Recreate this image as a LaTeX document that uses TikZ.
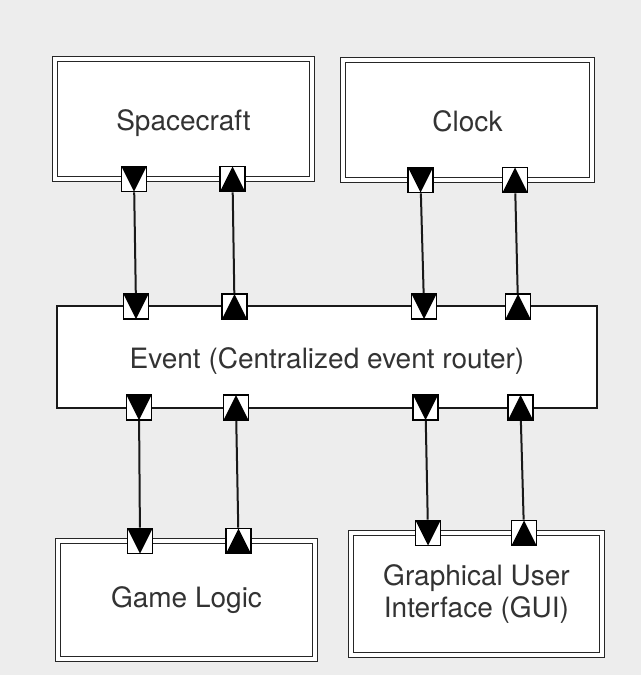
\documentclass[tikz,border=0pt]{standalone}
\usepackage{fontspec}
\setmainfont{TeX Gyre Heros}
\begin{document}
\begin{tikzpicture}[x=0.5pt,y=-0.5pt,
  lbl/.style={font=\fontsize{14}{16.5}\selectfont, text=black!80, align=center, inner sep=0pt},
  lowtext/.style={text height=2.1ex, text depth=0pt},
  comp/.style={lbl, draw=black!85, line width=0.9pt, double=white, double distance=1.6pt, fill=white},
  router/.style={lbl, draw=black!90, line width=1.3pt, fill=white},
  port/.style={rectangle, draw=black, line width=0.9pt, fill=white, minimum size=12.5pt, inner sep=0pt},
  pdown/.style={port, path picture={\fill[black] (path picture bounding box.north west) -- (path picture bounding box.north east) -- (path picture bounding box.south) -- cycle;}},
  pup/.style={port, path picture={\fill[black] (path picture bounding box.south west) -- (path picture bounding box.south east) -- (path picture bounding box.north) -- cycle;}},
  wire/.style={draw=black!90, line width=1pt}
]
\useasboundingbox[fill=black!7] (0,0) rectangle (641,675);

% components
\node[comp, lowtext, minimum width=128.5pt, minimum height=60pt] (sc) at (183.5,119) {Spacecraft};
\node[comp, lowtext, minimum width=124.5pt, minimum height=60pt] (ck) at (467.5,120) {Clock};
\node[router, lowtext, minimum width=270pt, minimum height=51pt] (ev) at (327,357) {Event (Centralized event router)};
\node[comp, minimum width=128.5pt, minimum height=59pt] (gl) at (186.5,600) {Game Logic};
\node[comp, minimum width=125.5pt, minimum height=61pt] (gui) at (476.5,594) {Graphical User\\Interface (GUI)};

% ports
\node[pdown] (s1) at (134,179) {};
\node[pup]   (s2) at (232.5,179) {};
\node[pdown] (c1) at (420.5,180) {};
\node[pup]   (c2) at (515,180) {};
\node[pdown] (e1) at (136,306.5) {};
\node[pup]   (e2) at (234.5,306.5) {};
\node[pdown] (e3) at (424,306.5) {};
\node[pup]   (e4) at (518,306.5) {};
\node[pdown] (e5) at (139,407.5) {};
\node[pup]   (e6) at (236,407.5) {};
\node[pdown] (e7) at (425.5,407.5) {};
\node[pup]   (e8) at (520.5,407.5) {};
\node[pdown] (g1) at (140,541) {};
\node[pup]   (g2) at (238.5,541) {};
\node[pdown] (u1) at (428,533) {};
\node[pup]   (u2) at (524,533) {};

% connectors
\draw[wire] (s1) -- (e1);
\draw[wire] (s2) -- (e2);
\draw[wire] (c1) -- (e3);
\draw[wire] (c2) -- (e4);
\draw[wire] (e5) -- (g1);
\draw[wire] (e6) -- (g2);
\draw[wire] (e7) -- (u1);
\draw[wire] (e8) -- (u2);
\end{tikzpicture}
\end{document}
